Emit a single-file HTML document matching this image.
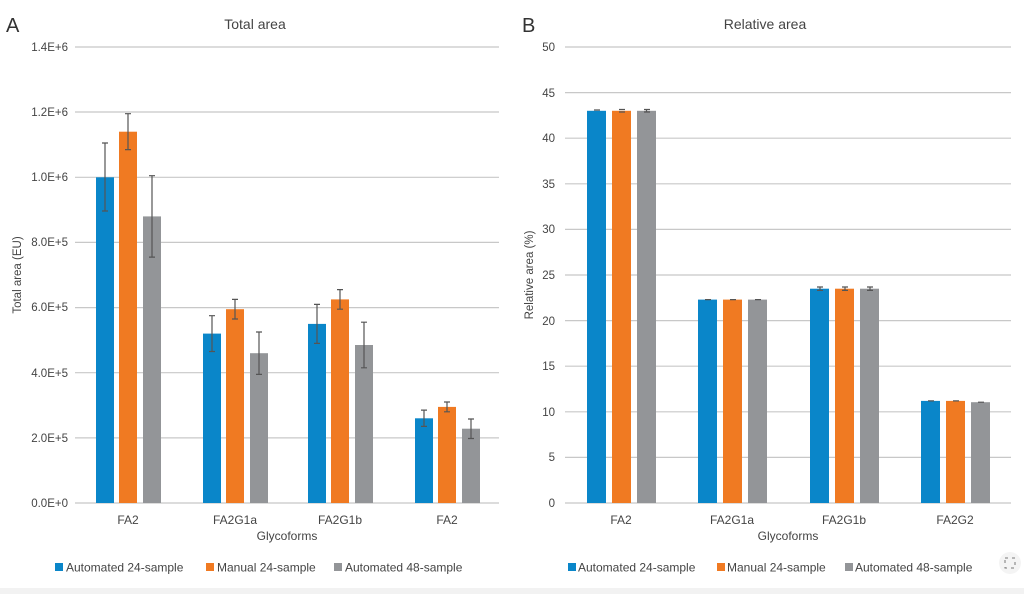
<!DOCTYPE html><html><head><style>body{margin:0;background:#fff}svg{display:block}text{font-family:"Liberation Sans",sans-serif;fill:#444}</style></head><body>
<svg width="1024" height="594" viewBox="0 0 1024 594" xmlns="http://www.w3.org/2000/svg">
<rect width="1024" height="594" fill="#fff"/>
<rect x="0" y="588" width="1024" height="6" fill="#f2f2f2"/>
<text x="6" y="32" font-size="20" style="fill:#333">A</text>
<text x="522" y="32" font-size="20" style="fill:#333">B</text>
<text x="255" y="29" font-size="14" text-anchor="middle">Total area</text>
<text x="765" y="29" font-size="14" text-anchor="middle">Relative area</text>
<g stroke="#c8c8c8" stroke-width="1.2">
<line x1="75" x2="499" y1="47" y2="47"/><line x1="75" x2="499" y1="112" y2="112"/><line x1="75" x2="499" y1="177.3" y2="177.3"/><line x1="75" x2="499" y1="242.4" y2="242.4"/><line x1="75" x2="499" y1="307.6" y2="307.6"/><line x1="75" x2="499" y1="372.7" y2="372.7"/><line x1="75" x2="499" y1="437.9" y2="437.9"/><line x1="75" x2="499" y1="503" y2="503"/>
<line x1="565" x2="1011" y1="47" y2="47"/><line x1="565" x2="1011" y1="92.6" y2="92.6"/><line x1="565" x2="1011" y1="138.2" y2="138.2"/><line x1="565" x2="1011" y1="183.8" y2="183.8"/><line x1="565" x2="1011" y1="229.4" y2="229.4"/><line x1="565" x2="1011" y1="275" y2="275"/><line x1="565" x2="1011" y1="320.6" y2="320.6"/><line x1="565" x2="1011" y1="366.2" y2="366.2"/><line x1="565" x2="1011" y1="411.8" y2="411.8"/><line x1="565" x2="1011" y1="457.4" y2="457.4"/><line x1="565" x2="1011" y1="503" y2="503"/>
</g>
<g font-size="11.5" text-anchor="end">
<text x="68" y="51">1.4E+6</text><text x="68" y="116">1.2E+6</text><text x="68" y="181">1.0E+6</text><text x="68" y="246">8.0E+5</text><text x="68" y="311">6.0E+5</text><text x="68" y="377">4.0E+5</text><text x="68" y="442">2.0E+5</text><text x="68" y="507">0.0E+0</text>
<text x="555" y="51">50</text><text x="555" y="97">45</text><text x="555" y="142">40</text><text x="555" y="188">35</text><text x="555" y="233">30</text><text x="555" y="279">25</text><text x="555" y="325">20</text><text x="555" y="370">15</text><text x="555" y="416">10</text><text x="555" y="461">5</text><text x="555" y="507">0</text>
</g>
<text transform="translate(21,275) rotate(-90)" font-size="11.5" text-anchor="middle">Total area (EU)</text>
<text transform="translate(533,275) rotate(-90)" font-size="11.5" text-anchor="middle">Relative area (%)</text>
<g font-size="12" text-anchor="middle">
<text x="128" y="524">FA2</text><text x="235" y="524">FA2G1a</text><text x="340" y="524">FA2G1b</text><text x="447" y="524">FA2</text>
<text x="621" y="524">FA2</text><text x="732" y="524">FA2G1a</text><text x="844" y="524">FA2G1b</text><text x="955" y="524">FA2G2</text>
<text x="287" y="540">Glycoforms</text><text x="788" y="540">Glycoforms</text>
</g>
<!-- left bars: y = 503 - v*325.7 (v in E6) -->
<g>
<rect x="96" y="177.3" width="18" height="325.7" fill="#0a86c9"/><rect x="119" y="131.7" width="18" height="371.3" fill="#f07a22"/><rect x="143" y="216.4" width="18" height="286.6" fill="#939598"/>
<rect x="203" y="333.6" width="18" height="169.4" fill="#0a86c9"/><rect x="226" y="309.2" width="18" height="193.8" fill="#f07a22"/><rect x="250" y="353.2" width="18" height="149.8" fill="#939598"/>
<rect x="308" y="323.9" width="18" height="179.1" fill="#0a86c9"/><rect x="331" y="299.4" width="18" height="203.6" fill="#f07a22"/><rect x="355" y="345" width="18" height="158" fill="#939598"/>
<rect x="415" y="418.3" width="18" height="84.7" fill="#0a86c9"/><rect x="438" y="406.9" width="18" height="96.1" fill="#f07a22"/><rect x="462" y="428.7" width="18" height="74.3" fill="#939598"/>
</g>
<g stroke="#555" stroke-width="1.2">
<path d="M105 143V211M102 143h6M102 211h6"/><path d="M128 113.7V149.6M125 113.7h6M125 149.6h6"/><path d="M152 175.7V257.1M149 175.7h6M149 257.1h6"/>
<path d="M212 315.7V351.5M209 315.7h6M209 351.5h6"/><path d="M235 299.4V319M232 299.4h6M232 319h6"/><path d="M259 332V374.4M256 332h6M256 374.4h6"/>
<path d="M317 304.4V343.4M314 304.4h6M314 343.4h6"/><path d="M340 289.6V309.2M337 289.6h6M337 309.2h6"/><path d="M364 322.2V367.8M361 322.2h6M361 367.8h6"/>
<path d="M424 410.1V426.4M421 410.1h6M421 426.4h6"/><path d="M447 402V411.8M444 402h6M444 411.8h6"/><path d="M471 419V438.5M468 419h6M468 438.5h6"/>
</g>
<!-- right bars: y = 503 - v*9.12 -->
<g>
<rect x="587" y="110.8" width="19" height="392.2" fill="#0a86c9"/><rect x="612" y="110.8" width="19" height="392.2" fill="#f07a22"/><rect x="637" y="110.8" width="19" height="392.2" fill="#939598"/>
<rect x="698" y="299.6" width="19" height="203.4" fill="#0a86c9"/><rect x="723" y="299.6" width="19" height="203.4" fill="#f07a22"/><rect x="748" y="299.6" width="19" height="203.4" fill="#939598"/>
<rect x="810" y="288.7" width="19" height="214.3" fill="#0a86c9"/><rect x="835" y="288.7" width="19" height="214.3" fill="#f07a22"/><rect x="860" y="288.7" width="19" height="214.3" fill="#939598"/>
<rect x="921" y="400.9" width="19" height="102.1" fill="#0a86c9"/><rect x="946" y="400.9" width="19" height="102.1" fill="#f07a22"/><rect x="971" y="402.2" width="19" height="100.8" fill="#939598"/>
</g>
<g stroke="#555" stroke-width="1.2">
<path d="M594 110h6M619 109.5h6M619 112h6M644 109.5h6M644 112h6M646.5 109.5v3"/>
<path d="M705 299.6h6M730 299.6h6M755 299.6h6"/>
<path d="M817 287h6M817 290.4h6M842 287h6M842 290.4h6M867 287h6M867 290.4h6M820 287v3.4M845 287v3.4M870 287v3.4"/>
<path d="M928 400.9h6M953 400.9h6M978 402.2h6"/>
</g>
<g font-size="12">
<rect x="55" y="563" width="8" height="8" fill="#0a86c9"/><text x="66" y="571.5">Automated 24-sample</text>
<rect x="206" y="563" width="8" height="8" fill="#f07a22"/><text x="217" y="571.5">Manual 24-sample</text>
<rect x="334" y="563" width="8" height="8" fill="#939598"/><text x="345" y="571.5">Automated 48-sample</text>
<rect x="568" y="563" width="8" height="8" fill="#0a86c9"/><text x="578" y="571.5">Automated 24-sample</text>
<rect x="717" y="563" width="8" height="8" fill="#f07a22"/><text x="727" y="571.5">Manual 24-sample</text>
<rect x="845" y="563" width="8" height="8" fill="#939598"/><text x="855" y="571.5">Automated 48-sample</text>
</g>
<circle cx="1010" cy="563" r="11" fill="#f4f4f4"/>
<rect x="1005" y="558" width="10" height="10" fill="none" stroke="#777" stroke-width="1" stroke-dasharray="3 4"/>
</svg>
</body></html>
